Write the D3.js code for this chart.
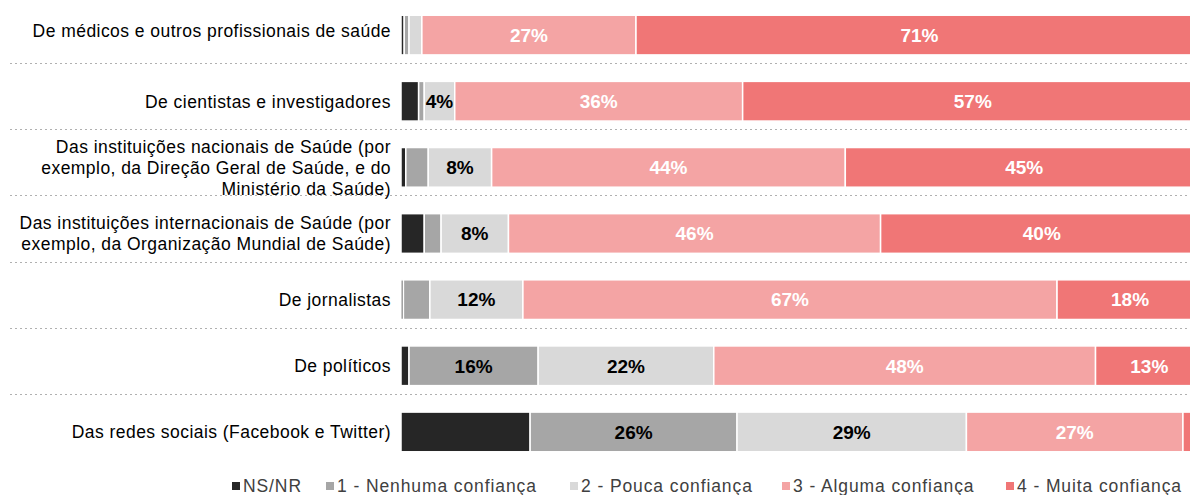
<!DOCTYPE html>
<html>
<head>
<meta charset="utf-8">
<script src="https://cdn.jsdelivr.net/npm/d3@7"></script>
<style>
  html, body { margin: 0; padding: 0; background: #ffffff; overflow: hidden; }
  svg { display: block; font-family: "Liberation Sans", Arial, sans-serif; }
</style>
</head>
<body>
<svg id="chart" width="1190" height="495"></svg>
<script>
// ---- data ----
const categories = [
  ["De médicos e outros profissionais de saúde"],
  ["De cientistas e investigadores"],
  ["Das instituições nacionais de Saúde (por", "exemplo, da Direção Geral de Saúde, e do", "Ministério da Saúde)"],
  ["Das instituições internacionais de Saúde (por", "exemplo, da Organização Mundial de Saúde)"],
  ["De jornalistas"],
  ["De políticos"],
  ["Das redes sociais (Facebook e Twitter)"]
];
const seriesNames = ["NS/NR", "1 - Nenhuma confiança", "2 - Pouca confiança", "3 - Alguma confiança", "4 - Muita confiança"];
const nsnr    = [0.4, 2.2, 0.6, 2.9, 0.3, 1.0, 16.1];
const nenhuma = [0.6, 0.7, 2.8, 2.1, 3.3, 16.1, 25.8];
const pouca   = [1.6, 3.8, 7.9, 8.4, 11.6, 21.9, 28.6];
const alguma  = [26.7, 35.9, 44.1, 46.4, 66.6, 47.6, 27.0];
const muita   = [70.7, 57.4, 44.6, 40.2, 18.2, 13.4, 2.5];
const seriesValues = [nsnr, nenhuma, pouca, alguma, muita];

// ---- styles ----
const colors = ["#262626", "#a6a6a6", "#d9d9d9", "#f4a4a4", "#f07676"];
const labelColors = ["#ffffff", "#000000", "#000000", "#ffffff", "#ffffff"];

const svg = d3.select("#chart");
// plot area continues past the right edge of the picture (cropped)
const x = d3.scaleLinear().domain([0, 100]).range([401, 1203]);
const y = d3.scaleBand().domain(d3.range(categories.length)).range([3, 466]).paddingInner(0.4).paddingOuter(0.2);

const rows = categories.map((c, i) => {
  let acc = 0;
  return seriesValues.map((s, k) => {
    const seg = { row: i, k, x0: acc, x1: acc + s[i], v: s[i] };
    acc += s[i];
    return seg;
  });
});

// separators
const step = y.step();
for (let i = 0; i < categories.length - 1; i++) {
  const yy = Math.round(y(i) + y.bandwidth() / 2 + step / 2 - 6) + 0.5;
  svg.append("line")
    .attr("x1", 10).attr("x2", 1190).attr("y1", yy).attr("y2", yy)
    .attr("stroke", "#b0b0b0").attr("stroke-width", 1)
    .attr("stroke-dasharray", "2,3");
}

// bars
const g = svg.append("g");
rows.forEach(segs => {
  g.selectAll(null).data(segs).enter().append("rect")
    .attr("x", d => x(d.x0))
    .attr("width", d => Math.max(0, x(d.x1) - x(d.x0)))
    .attr("y", d => y(d.row) - 1)
    .attr("height", y.bandwidth())
    .attr("fill", d => colors[d.k])
    .attr("stroke", "#ffffff")
    .attr("stroke-width", 1.5);
  g.selectAll(null).data(segs.filter(d => d.k > 0 && Math.round(d.v) >= 4)).enter().append("text")
    .attr("x", d => (x(d.x0) + x(d.x1)) / 2)
    .attr("y", d => y(d.row) - 1 + y.bandwidth() / 2)
    .attr("dy", "0.36em")
    .attr("text-anchor", "middle")
    .attr("font-size", 19)
    .attr("font-weight", "bold")
    .attr("fill", d => labelColors[d.k])
    .text(d => Math.round(d.v) + "%");
});

// category labels
const lineH = 21;
categories.forEach((lines, i) => {
  const cy = y(i) + y.bandwidth() / 2 - (i === 0 ? 5 : 1);
  const t = svg.append("text")
    .attr("text-anchor", "end")
    .attr("font-size", 17.5)
    .attr("letter-spacing", 0.45)
    .attr("fill", "#000000");
  lines.forEach((ln, j) => {
    t.append("tspan")
      .attr("x", 391)
      .attr("y", cy + (j - (lines.length - 1) / 2) * lineH)
      .attr("dy", "0.36em")
      .text(ln);
  });
});

// legend
const legendX = [232, 326, 570, 782, 1006];
const legendY = 486;
const lg = svg.append("g");
seriesNames.forEach((name, k) => {
  lg.append("rect")
    .attr("x", legendX[k]).attr("y", legendY - 4)
    .attr("width", 8).attr("height", 8)
    .attr("fill", colors[k]);
  lg.append("text")
    .attr("x", legendX[k] + 11).attr("y", legendY)
    .attr("dy", "0.36em")
    .attr("font-size", 17.5)
    .attr("letter-spacing", 0.9)
    .attr("fill", "#404040")
    .text(name);
});
</script>
</body>
</html>
